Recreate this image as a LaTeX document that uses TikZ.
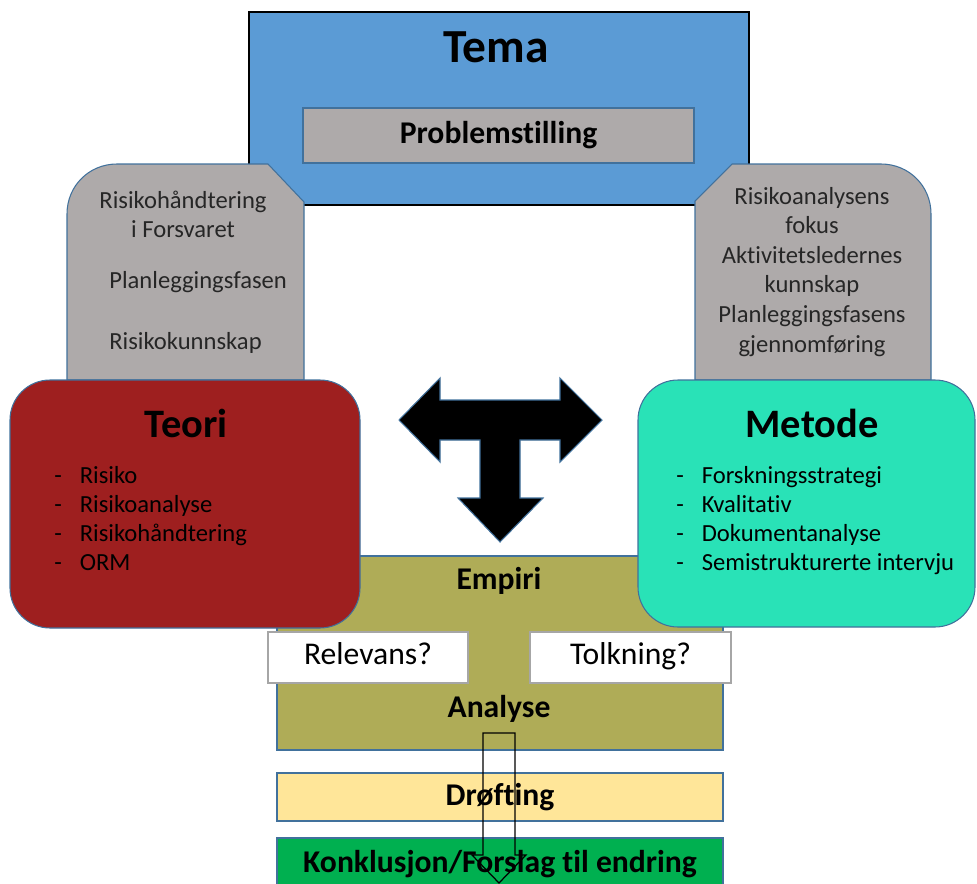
\documentclass[tikz,border=0pt]{standalone}
\usepackage{fontspec}
\setmainfont{Carlito}[Ligatures=CommonOff]
\usepackage{xcolor}
\usepackage{tikz}
\usetikzlibrary{positioning}
\definecolor{temablue}{HTML}{5B9BD5}
\definecolor{greyfill}{HTML}{AEAAAA}
\definecolor{teorired}{HTML}{9E1F1F}
\definecolor{metodeturq}{HTML}{29E2B7}
\definecolor{empirolive}{HTML}{AFAC57}
\definecolor{drofting}{HTML}{FFE699}
\definecolor{konkgreen}{HTML}{00B050}
\definecolor{edgeblue}{HTML}{41719C}
\newcommand{\itemdash}{\makebox[14.5pt][l]{-}}
\tikzset{
  panel/.style={draw=edgeblue, line width=0.6pt},
  flatbox/.style={panel, inner sep=0pt, font=\fontsize{18}{21}\selectfont\bfseries},
  askbox/.style={draw=black!35, fill=white, line width=0.6pt, inner sep=0pt, text height=12pt, text depth=4pt, font=\fontsize{18}{21}\selectfont},
  bigtitle/.style={anchor=base, inner sep=0pt, font=\fontsize{27}{32}\selectfont\bfseries},
  title/.style={anchor=base, inner sep=0pt, font=\fontsize{23}{27}\selectfont\bfseries},
  head/.style={anchor=base, inner sep=0pt, font=\fontsize{18}{21}\selectfont\bfseries},
  txt/.style={anchor=base, inner sep=0pt, text=black!85, font=\fontsize{14}{17}\selectfont},
  item/.style={txt, anchor=base west, text=black}}
\begin{document}
\begin{tikzpicture}[x=0.2mm, y=-0.2mm]
  \useasboundingbox (0,0) rectangle (977,883);
  % olive block behind teori and metode
  \draw[panel, fill=empirolive] (277,556) rectangle (723,750);
  \node[head] (empiri) at (499,589) {Empiri};
  \node[head] (analyse) at (499,717) {Analyse};
  % tema
  \draw[black, line width=0.6pt, fill=temablue] (249,12) rectangle (749,205);
  \node[bigtitle] (tema) at (496,62) {Tema};
  \node[flatbox, fill=greyfill, minimum width=78.2mm, minimum height=11mm] (problem) at (498.5,135.5) {Problemstilling};
  % grey side panels
  \draw[panel, fill=greyfill] (67,380) -- (67,214) .. controls (67,186) and (89,164) .. (117,164) -- (268,164) -- (304,202) -- (304,380) -- cycle;
  \draw[panel, fill=greyfill] (695,380) -- (695,201) -- (732,164) -- (881,164) .. controls (909,164) and (931,186) .. (931,214) -- (931,380) -- cycle;
  \node[txt] (lt1) at (183,208) {Risikohåndtering};
  \node[txt] (lt2) at (183,237) {i Forsvaret};
  \node[txt, anchor=base west] (lt3) at (109,288) {Planleggingsfasen};
  \node[txt, anchor=base west] (lt4) at (109,349) {Risikokunnskap};
  \foreach \t [count=\i from 0] in {Risikoanalysens,fokus,Aktivitetsledernes,kunnskap,Planleggingsfasens,gjennomføring}
    \node[txt] (rt\i) at (812,204+29.6*\i) {\t};
  % teori and metode
  \draw[panel, fill=teorired, rounded corners=8mm] (10,380) rectangle (360,628);
  \node[title] (teori) at (186,437) {Teori};
  \foreach \t [count=\i from 0] in {Risiko,Risikoanalyse,Risikohåndtering,ORM}
    \node[item] (teori\i) at (54,483+29.3*\i) {\itemdash\t};
  \draw[panel, fill=metodeturq, rounded corners=8mm] (638,380) rectangle (975,627);
  \node[title] (metode) at (812,437) {Metode};
  \foreach \t [count=\i from 0] in {Forskningsstrategi,Kvalitativ,Dokumentanalyse,Semistrukturerte intervju}
    \node[item] (metode\i) at (676,483+29.3*\i) {\itemdash\t};
  % T arrow
  \draw[edgeblue, line width=0.6pt, fill=black] (399,420) -- (440,378) -- (440,400) -- (560,400) -- (560,378) -- (602,420) -- (560,462) -- (560,440) -- (520,440) -- (520,498) -- (543,498) -- (500,542) -- (458,498) -- (480,498) -- (480,440) -- (440,440) -- (440,462) -- cycle;
  % questions
  \node[askbox, minimum width=40mm, minimum height=10.2mm] (relevans) at (368,657.5) {Relevans?};
  \node[askbox, minimum width=40.2mm, minimum height=10.2mm] (tolkning) at (630.5,657.5) {Tolkning?};
  % lower steps
  \node[flatbox, fill=drofting, minimum width=89.2mm, minimum height=9.6mm] (drofting) at (500,797) {Drøfting};
  \node[flatbox, fill=konkgreen, minimum width=89.2mm, minimum height=10.4mm] (konklusjon) at (500,864) {Konklusjon/Forslag til endring};
  % outline arrow down
  \draw[black, line width=0.7pt] (483,733) -- (515,733) -- (515,855) -- (526,855) -- (499,883) -- (472,855) -- (483,855) -- cycle;
\end{tikzpicture}
\end{document}
